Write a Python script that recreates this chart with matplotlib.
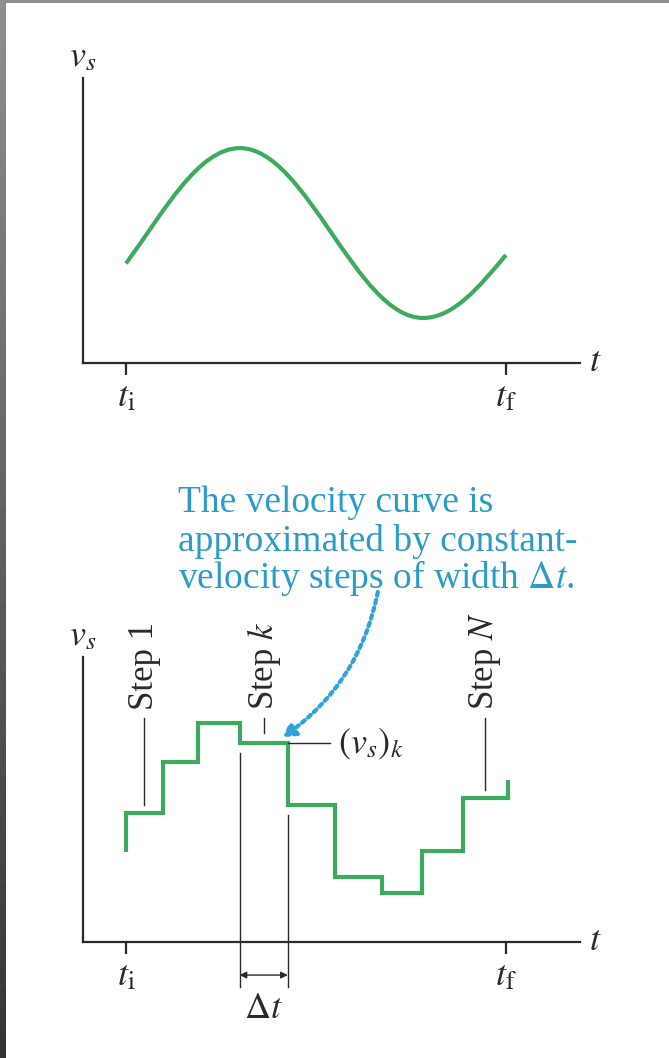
import numpy as np
import matplotlib.pyplot as plt
from matplotlib.patches import FancyArrowPatch, PathPatch
from matplotlib.path import Path

plt.rcParams['font.family'] = ['Liberation Serif', 'DejaVu Serif']
plt.rcParams['mathtext.fontset'] = 'stix'

# ---------------------------------------------------------------- data
T_I, T_F = 0.0, 10.0
TICK_LABELS = [r'$t_\mathrm{i}$', r'$t_\mathrm{f}$']

# smooth velocity curve v_s(t): key points (start, maximum, minimum, end)
# and the Bezier handles that shape the curve between them
CURVE_KNOTS_T = [0.0, 3.0, 7.82, 10.0]
CURVE_KNOTS_V = [3.49, 7.54, 1.58, 3.79]
CURVE_HANDLES_T = [1.0, 1.9, 4.75, 6.07, 8.62, 9.3]
CURVE_HANDLES_V = [5.31, 7.54, 7.54, 1.58, 1.58, 2.67]

# constant-velocity step approximation
STEP_EDGES = [0.0, 0.97, 1.89, 2.99, 4.26, 5.50, 6.74, 7.79, 8.87, 10.05]
STEP_LEVELS = [4.53, 6.32, 7.68, 6.98, 4.81, 2.28, 1.72, 3.19, 5.05]
STEP_START_V = 3.16
STEP_END_V = 5.68
STEP_K = 3

NOTE_LINES = ['The velocity curve is',
              'approximated by constant-',
              r'velocity steps of width $\Delta t$.']

# ---------------------------------------------------------------- style
GREEN = '#3dab5c'
BLUE = '#2b9bc8'
ARROW_BLUE = '#2ea3da'
INK = '#2a2a2a'
FS = 26

W, H = 669, 1058
fig = plt.figure(figsize=(W / 100, H / 100), dpi=100)
fig.patch.set_facecolor('white')

# grey frame strips along the left and top edges
strip = fig.add_axes([0, 0, 6 / W, 1])
strip.imshow(np.linspace(142, 52, 256).reshape(-1, 1), cmap='gray', vmin=0, vmax=255,
             aspect='auto', extent=[0, 1, 0, 1])
strip.axis('off')
top_strip = fig.add_axes([0, 1 - 3 / H, 1, 3 / H])
top_strip.set_facecolor('#8e8e8e')
top_strip.set_xticks([]); top_strip.set_yticks([])
for s in top_strip.spines.values():
    s.set_visible(False)

AX_L, AX_W, AX_H = 83, 497, 285
X_LO, X_HI = -1.13, 11.95


def make_axes(top_px):
    ax = fig.add_axes([AX_L / W, (H - top_px - AX_H) / H, AX_W / W, AX_H / H])
    ax.set_xlim(X_LO, X_HI)
    ax.set_ylim(0, 10)
    ax.patch.set_alpha(0)
    for side in ('top', 'right'):
        ax.spines[side].set_visible(False)
    for side in ('left', 'bottom'):
        ax.spines[side].set_linewidth(1.6)
        ax.spines[side].set_color(INK)
    ax.set_yticks([])
    ax.set_xticks([T_I, T_F])
    ax.set_xticklabels(TICK_LABELS)
    ax.tick_params(axis='x', direction='out', length=8.8, width=1.6, color=INK,
                   pad=4, labelsize=FS, labelcolor=INK)
    ax.text(12.2, 0, r'$t$', fontsize=FS, color=INK, ha='left', va='center',
            clip_on=False)
    ax.text(X_LO, 10.15, r'$v_s$', fontsize=FS, color=INK, ha='center', va='bottom',
            clip_on=False)
    return ax


# ---------------------------------------------------------------- top panel
ax1 = make_axes(78)
verts = [(CURVE_KNOTS_T[0], CURVE_KNOTS_V[0])]
codes = [Path.MOVETO]
for i in range(1, len(CURVE_KNOTS_T)):
    verts += [(CURVE_HANDLES_T[2 * i - 2], CURVE_HANDLES_V[2 * i - 2]),
              (CURVE_HANDLES_T[2 * i - 1], CURVE_HANDLES_V[2 * i - 1]),
              (CURVE_KNOTS_T[i], CURVE_KNOTS_V[i])]
    codes += [Path.CURVE4] * 3
ax1.add_patch(PathPatch(Path(verts, codes), facecolor='none', edgecolor=GREEN,
                        lw=3.0, capstyle='butt'))

# ---------------------------------------------------------------- bottom panel
ax2 = make_axes(657)
edges = np.asarray(STEP_EDGES)
levels = np.asarray(STEP_LEVELS)
sx = np.concatenate([[edges[0]], np.column_stack([edges[:-1], edges[1:]]).ravel(), [edges[-1]]])
sy = np.concatenate([[STEP_START_V], np.repeat(levels, 2), [STEP_END_V]])
ax2.plot(sx, sy, color=GREEN, lw=3.0, solid_capstyle='butt', solid_joinstyle='miter')

mids = (edges[:-1] + edges[1:]) / 2
LEAD_TOP = 7.86
lead_kw = dict(color=INK, lw=1.0, clip_on=False)

# step labels with their leader lines
for idx, lab, lead_bottom in [(0, 'Step 1', STEP_LEVELS[0] + 0.28),
                              (STEP_K, r'Step $k$', 7.33),
                              (len(levels) - 1, r'Step $N$', STEP_LEVELS[-1] + 0.28)]:
    ax2.plot([mids[idx], mids[idx]], [LEAD_TOP, lead_bottom], **lead_kw)
    ax2.text(mids[idx], 8.14, lab, rotation=90, fontsize=25, color=INK,
             ha='center', va='bottom', clip_on=False)

# (v_s)_k marker on step k
vk = STEP_LEVELS[STEP_K]
ax2.plot([edges[STEP_K + 1], 5.37], [vk, vk], **lead_kw)
ax2.text(5.58, vk - 0.35, r'$(v_s)_k$', fontsize=FS, color=INK, ha='left',
         va='baseline', clip_on=False)

# width of step k
ax2.plot([edges[STEP_K]] * 2, [6.63, -1.58], **lead_kw)
ax2.plot([edges[STEP_K + 1]] * 2, [4.46, -1.58], **lead_kw)
ax2.annotate('', xy=(edges[STEP_K], -1.16), xytext=(edges[STEP_K + 1], -1.16),
             arrowprops=dict(arrowstyle='<|-|>', color=INK, lw=1.0, mutation_scale=10,
                             shrinkA=0, shrinkB=0),
             annotation_clip=False)
ax2.text(mids[STEP_K], -1.79, r'$\Delta t$', fontsize=FS, color=INK, ha='center',
         va='top', clip_on=False)

# explanatory note
for line, v in zip(NOTE_LINES, [15.09, 13.72, 12.42]):
    ax2.text(1.37, v, line, fontsize=27, color=BLUE, ha='left', va='baseline',
             clip_on=False)

arrow = FancyArrowPatch((6.63, 12.28), (4.13, 7.19), connectionstyle='arc3,rad=-0.2',
                        arrowstyle='-|>,head_length=0.5,head_width=0.3',
                        mutation_scale=14, color=ARROW_BLUE, lw=3.0,
                        linestyle=(0, (0.9, 1.0)), shrinkA=0, shrinkB=0,
                        clip_on=False)
ax2.add_patch(arrow)

fig.savefig('out.png', dpi=100)
